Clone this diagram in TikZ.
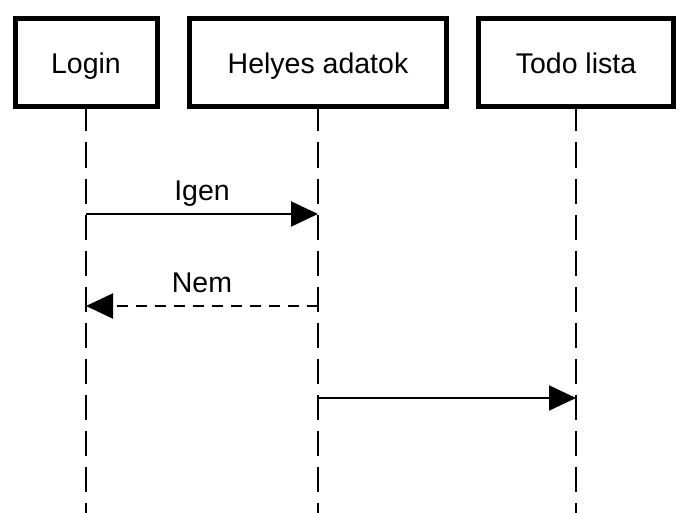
\documentclass[tikz,border=0pt]{standalone}
\usepackage{fontspec}
\setmainfont{Liberation Sans}
\usetikzlibrary{arrows.meta}
\begin{document}
\begin{tikzpicture}[x=1pt,y=-1pt,
  actor/.style={draw=black, line width=5pt, fill=white, minimum height=88pt,
    inner sep=0pt, outer sep=0pt, font=\fontsize{28.5}{34}\selectfont,
    text height=21.6pt, text depth=0pt},
  lifeline/.style={line width=2pt, dash pattern=on 25pt off 11pt},
  msg/.style={line width=2pt, -{Triangle[length=27pt,width=25pt]}},
  msglabel/.style={font=\fontsize{28.5}{34}\selectfont, anchor=base, inner sep=0pt}
]
\useasboundingbox (0,0) rectangle (684,513);
\node[actor, minimum width=142pt] (login) at (86,62.5) {Login};
\node[actor, minimum width=257.5pt] (helyes) at (318,62.5) {Helyes adatok};
\node[actor, minimum width=195.5pt] (todo) at (576,62.5) {Todo lista};
\coordinate (bot) at (0,513);
\coordinate (y1) at (0,214);
\coordinate (y2) at (0,306);
\coordinate (y3) at (0,398);
\draw[lifeline] (login.south) -- (login |- bot);
\draw[lifeline] (helyes.south) -- (helyes |- bot);
\draw[lifeline] (todo.south) -- (todo |- bot);
\draw[msg] (login |- y1) -- (helyes |- y1)
  node[msglabel, midway, yshift=14pt] {Igen};
\draw[msg, dash pattern=on 11pt off 8pt] (helyes |- y2) -- (login |- y2)
  node[msglabel, midway, yshift=14pt] {Nem};
\draw[msg] (helyes |- y3) -- (todo |- y3);
\end{tikzpicture}
\end{document}
